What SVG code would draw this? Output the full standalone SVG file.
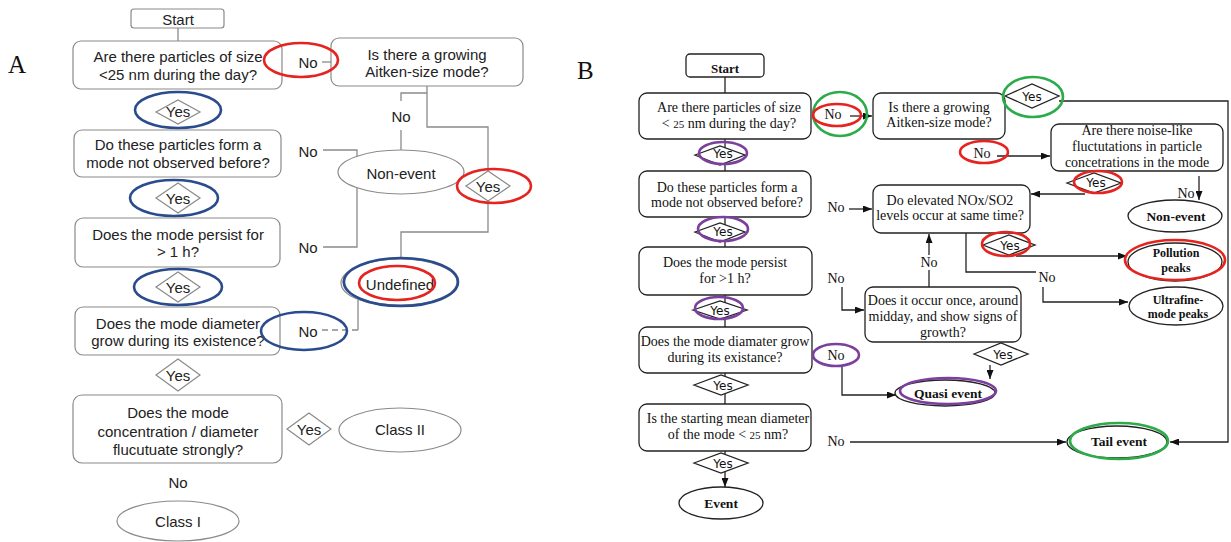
<svg xmlns="http://www.w3.org/2000/svg" width="1231" height="542" viewBox="0 0 1231 542">
<defs>
<marker id="arr" markerUnits="userSpaceOnUse" markerWidth="9" markerHeight="7" refX="9" refY="3.5" orient="auto">
<path d="M0,0 L9,3.5 L0,7 z" fill="#111"/>
</marker>
<style>
.ta{font-family:"Liberation Sans",Arial,sans-serif;font-size:15px;fill:#222;text-anchor:middle}
.tb{font-family:"Liberation Serif","Times New Roman",serif;font-size:14px;fill:#111;text-anchor:middle}
.tbb{font-family:"Liberation Serif","Times New Roman",serif;font-size:13.5px;font-weight:bold;fill:#111;text-anchor:middle}
.tbs{font-family:"Liberation Serif","Times New Roman",serif;font-size:12px;font-weight:bold;fill:#111;text-anchor:middle}
.ty{font-family:"DejaVu Sans",Verdana,sans-serif;font-size:12px;fill:#111;text-anchor:middle}
.lab{font-family:"Liberation Serif","Times New Roman",serif;font-size:25px;fill:#111}
.na{fill:#fff;stroke:#8a8a8a;stroke-width:1.2}
.nb{fill:#fff;stroke:#222;stroke-width:1.3}
.ca{fill:none;stroke:#8a8a8a;stroke-width:1.3}
.cb{fill:none;stroke:#222;stroke-width:1.3}
.blue{fill:none;stroke:#2a4b8d;stroke-width:2.6}
.red{fill:none;stroke:#e5231f;stroke-width:2.6}
.green{fill:none;stroke:#2bab4a;stroke-width:2.6}
.purple{fill:none;stroke:#7b3f9e;stroke-width:2.6}
</style>
</defs>
<rect width="1231" height="542" fill="#fff"/>
<text class="lab" x="8" y="73">A</text>
<text class="lab" x="577" y="79">B</text>

<!-- Panel A connectors -->
<g id="connectors-a">
<path class="ca" d="M178,28 V41"/>
<path class="ca" d="M322,62 H331"/>
<path class="ca" d="M427,86 V127 H488 V171"/>
<path class="ca" d="M427,93 H401 V101"/>
<path class="ca" d="M401,130 V150"/>
<path class="ca" d="M323,150 H357 V247 H323"/>
<path class="ca" d="M488,201 V232 H401 V258"/>
<path class="ca" d="M358,300 V330"/>
<path class="ca" d="M322,330 H358" stroke-dasharray="6,4"/>
</g>

<!-- Panel A nodes -->
<g id="a-start"><rect class="na" x="131" y="9" width="93" height="19" rx="3"/><text class="ta" x="178" y="25">Start</text></g>
<g id="a-q1"><rect class="na" x="73" y="41" width="209" height="48" rx="8"/><text class="ta" x="178" y="62">Are there particles of size</text><text class="ta" x="178" y="80">&lt;25 nm during the day?</text></g>
<g id="a-yes1"><polygon class="na" points="156,112 178,100 200,112 178,124"/><text class="ta" x="178" y="117">Yes</text></g>
<g id="a-q2"><rect class="na" x="74" y="130" width="207" height="47" rx="8"/><text class="ta" x="178" y="150">Do these particles form a</text><text class="ta" x="178" y="168">mode not observed before?</text></g>
<g id="a-yes2"><polygon class="na" points="156,198 178,183 200,198 178,213"/><text class="ta" x="178" y="204">Yes</text></g>
<g id="a-q3"><rect class="na" x="75" y="218" width="205" height="49" rx="8"/><text class="ta" x="178" y="240">Does the mode persist for</text><text class="ta" x="178" y="257">&gt; 1 h?</text></g>
<g id="a-yes3"><polygon class="na" points="156,287 178,272 200,287 178,302"/><text class="ta" x="178" y="293">Yes</text></g>
<g id="a-q4"><rect class="na" x="75" y="307" width="205" height="48" rx="8"/><text class="ta" x="178" y="329">Does the mode diameter</text><text class="ta" x="178" y="346">grow during its existence?</text></g>
<g id="a-yes4"><polygon class="na" points="156,375 178,359 200,375 178,391"/><text class="ta" x="178" y="381">Yes</text></g>
<g id="a-q5"><rect class="na" x="73" y="395" width="209" height="68" rx="9"/><text class="ta" x="178" y="418">Does the mode</text><text class="ta" x="178" y="437">concentration / diameter</text><text class="ta" x="178" y="455">flucutuate strongly?</text></g>
<g id="a-no5"><text class="ta" x="178" y="488">No</text></g>
<g id="a-class1"><ellipse class="na" cx="178" cy="521" rx="61" ry="20"/><text class="ta" x="178" y="527">Class I</text></g>
<g id="a-yes5"><polygon class="na" points="287,429 309,413 331,429 309,445"/><text class="ta" x="309" y="435">Yes</text></g>
<g id="a-class2"><ellipse class="na" cx="400" cy="430" rx="61" ry="22"/><text class="ta" x="400" y="435">Class II</text></g>
<g id="a-no1"><text class="ta" x="308" y="68">No</text></g>
<g id="a-aitken"><rect class="na" x="331" y="38" width="192" height="48" rx="8"/><text class="ta" x="427" y="60">Is there a growing</text><text class="ta" x="427" y="77">Aitken-size mode?</text></g>
<g id="a-no-mid"><text class="ta" x="401" y="122">No</text></g>
<g id="a-no2"><text class="ta" x="308" y="157">No</text></g>
<g id="a-no3"><text class="ta" x="308" y="253">No</text></g>
<g id="a-nonevent"><ellipse class="na" cx="401" cy="172" rx="63" ry="22"/><text class="ta" x="401" y="179">Non-event</text></g>
<g id="a-yes-right"><polygon class="na" points="466,186 488,171 510,186 488,201"/><text class="ta" x="488" y="192">Yes</text></g>
<g id="a-undefined"><ellipse class="na" cx="398" cy="283" rx="57" ry="23"/><ellipse class="na" cx="400" cy="282" rx="57" ry="23"/><text class="ta" x="400" y="290">Undefined</text></g>
<g id="a-no4"><text class="ta" x="308" y="337">No</text></g>

<!-- Panel A highlights -->
<g id="a-highlights">
<ellipse class="blue" cx="178" cy="110" rx="43" ry="18"/>
<ellipse class="blue" cx="174" cy="198" rx="44" ry="18"/>
<ellipse class="blue" cx="178" cy="287" rx="44" ry="18"/>
<ellipse class="blue" cx="304" cy="331" rx="43" ry="19"/>
<ellipse class="blue" cx="401" cy="282" rx="57" ry="24"/>
<ellipse class="red" cx="301" cy="60" rx="37" ry="17"/>
<ellipse class="red" cx="494" cy="186" rx="37" ry="17"/>
<ellipse class="red" cx="397" cy="283" rx="38" ry="17"/>
</g>

<!-- Panel B connectors -->
<g id="connectors-b">
<path class="cb" d="M725,77 V93"/>
<path class="cb" d="M725,139 V171"/>
<path class="cb" d="M725,217 V247"/>
<path class="cb" d="M725,295 V327"/>
<path class="cb" d="M725,373 V404"/>
<path class="cb" d="M725,451 V487" marker-end="url(#arr)"/>
<path class="cb" d="M850,116 H872" marker-end="url(#arr)"/>
<path class="cb" d="M1059,101 H1228 V442 H1170" marker-end="url(#arr)"/>
<path class="cb" d="M997,156 H1050" marker-end="url(#arr)"/>
<path class="cb" d="M1085,194 H1031" marker-end="url(#arr)"/>
<path class="cb" d="M1199,176 V200" marker-end="url(#arr)"/>
<path class="cb" d="M849,209 H872" marker-end="url(#arr)"/>
<path class="cb" d="M1016,256 H1127" marker-end="url(#arr)"/>
<path class="cb" d="M966,233 V272 H1036"/>
<path class="cb" d="M1043,287 V302 H1128" marker-end="url(#arr)"/>
<path class="cb" d="M929,287 V270"/>
<path class="cb" d="M929,255 V234" marker-end="url(#arr)"/>
<path class="cb" d="M842,287 V310 H864" marker-end="url(#arr)"/>
<path class="cb" d="M990,365 V379" marker-end="url(#arr)"/>
<path class="cb" d="M842,366 V395 H896" marker-end="url(#arr)"/>
<path class="cb" d="M850,442 H1066" marker-end="url(#arr)"/>
</g>

<!-- Panel B nodes -->
<g id="b-start"><rect class="nb" x="686" y="54" width="78" height="23" rx="4"/><text class="tbb" x="725" y="73" style="font-size:13px">Start</text></g>
<g id="b-q1"><rect class="nb" x="639" y="93" width="172" height="46" rx="8"/><text class="tb" x="729" y="112">Are there particles of size</text><text class="tb" x="729" y="128">&lt; <tspan style="font-size:11px">25</tspan> nm during the day?</text></g>
<g id="b-yes1"><polygon class="nb" points="695,155 720,146 745,155 720,165"/><text class="ty" x="723" y="158">Yes</text></g>
<g id="b-q2"><rect class="nb" x="639" y="171" width="172" height="46" rx="8"/><text class="tb" x="727" y="192">Do these particles form a</text><text class="tb" x="727" y="207">mode not observed before?</text></g>
<g id="b-yes2"><polygon class="nb" points="695,232 720,223 745,232 720,242"/><text class="ty" x="723" y="236">Yes</text></g>
<g id="b-q3"><rect class="nb" x="639" y="247" width="173" height="48" rx="8"/><text class="tb" x="725" y="267">Does the mode persist</text><text class="tb" x="725" y="283">for &gt;1 h?</text></g>
<g id="b-yes3"><polygon class="nb" points="693,310 720,301 747,310 720,319"/><text class="ty" x="720" y="315">Yes</text></g>
<g id="b-q4"><rect class="nb" x="639" y="327" width="173" height="46" rx="8"/><text class="tb" x="725" y="346">Does the mode diamater grow</text><text class="tb" x="725" y="362">during its existance?</text></g>
<g id="b-yes4"><polygon class="nb" points="694,385 721,375 748,385 721,395"/><text class="ty" x="723" y="390">Yes</text></g>
<g id="b-q5"><rect class="nb" x="639" y="404" width="172" height="47" rx="8"/><text class="tb" x="728" y="423">Is the starting mean diameter</text><text class="tb" x="728" y="439">of the mode &lt; <tspan style="font-size:11px">25</tspan>  nm?</text></g>
<g id="b-yes5"><polygon class="nb" points="694,463 721,453 748,463 721,473"/><text class="ty" x="723" y="468">Yes</text></g>
<g id="b-event"><ellipse class="nb" cx="721" cy="503" rx="42" ry="16"/><text class="tbb" x="721" y="508">Event</text></g>
<g id="b-no1"><text class="tb" x="833" y="119">No</text></g>
<g id="b-aitken"><rect class="nb" x="873" y="93" width="132" height="46" rx="8"/><text class="tb" x="939" y="112">Is there a growing</text><text class="tb" x="939" y="127">Aitken-size mode?</text></g>
<g id="b-yes-top"><polygon class="nb" points="1005,96 1032,84 1059,96 1032,108"/><text class="ty" x="1032" y="101">Yes</text></g>
<g id="b-no2"><text class="tb" x="982" y="158">No</text></g>
<g id="b-noise"><rect class="nb" x="1051" y="124" width="172" height="47" rx="8"/><text class="tb" x="1137" y="135">Are there noise-like</text><text class="tb" x="1137" y="151">fluctutations in particle</text><text class="tb" x="1137" y="167">concetrations in the mode</text></g>
<g id="b-yes-noise"><polygon class="nb" points="1067,183 1094,173 1121,183 1094,193"/><text class="ty" x="1096" y="187">Yes</text></g>
<g id="b-no3"><text class="tb" x="1186" y="198">No</text></g>
<g id="b-nonevent"><ellipse class="nb" cx="1175" cy="216" rx="47" ry="16"/><text class="tbb" x="1176" y="221">Non-event</text></g>
<g id="b-no4"><text class="tb" x="836" y="212">No</text></g>
<g id="b-nox"><rect class="nb" x="873" y="185" width="157" height="48" rx="8"/><text class="tb" x="950" y="205">Do elevated NOx/SO2</text><text class="tb" x="950" y="220">levels occur at same time?</text></g>
<g id="b-yes-nox"><polygon class="nb" points="983,245 1009,235 1035,245 1009,255"/><text class="ty" x="1010" y="250">Yes</text></g>
<g id="b-pollution"><ellipse class="nb" cx="1175" cy="262" rx="47" ry="19"/><text class="tbs" x="1176" y="257">Pollution</text><text class="tbs" x="1176" y="272">peaks</text></g>
<g id="b-no5"><text class="tb" x="929" y="267">No</text></g>
<g id="b-no6"><text class="tb" x="836" y="283">No</text></g>
<g id="b-no7"><text class="tb" x="1047" y="282">No</text></g>
<g id="b-ultrafine"><ellipse class="nb" cx="1176" cy="306" rx="47" ry="19"/><text class="tbs" x="1178" y="304">Ultrafine-</text><text class="tbs" x="1178" y="318">mode peaks</text></g>
<g id="b-occur"><rect class="nb" x="865" y="287" width="156" height="55" rx="8"/><text class="tb" x="943" y="305">Does it occur once, around</text><text class="tb" x="943" y="321">midday, and show signs of</text><text class="tb" x="943" y="337">growth?</text></g>
<g id="b-yes-occur"><polygon class="nb" points="974,354 1001,343 1028,354 1001,365"/><text class="ty" x="1003" y="359">Yes</text></g>
<g id="b-no8"><text class="tb" x="836" y="360">No</text></g>
<g id="b-quasi"><ellipse class="nb" cx="945" cy="393" rx="50" ry="13"/><text class="tbb" x="948" y="398">Quasi event</text></g>
<g id="b-no9"><text class="tb" x="836" y="446">No</text></g>
<g id="b-tail"><ellipse class="nb" cx="1117" cy="442" rx="50" ry="16"/><text class="tbb" x="1119" y="446">Tail event</text></g>

<!-- Panel B highlights -->
<g id="b-highlights">
<ellipse class="green" cx="840" cy="114" rx="27" ry="22"/>
<ellipse class="green" cx="1033" cy="97" rx="30" ry="20"/>
<ellipse class="green" cx="1119" cy="441" rx="49" ry="18"/>
<ellipse class="red" cx="837" cy="115" rx="24" ry="11"/>
<ellipse class="red" cx="984" cy="152" rx="24" ry="11"/>
<ellipse class="red" cx="1098" cy="182" rx="24" ry="11"/>
<ellipse class="red" cx="1006" cy="244" rx="24" ry="12"/>
<ellipse class="red" cx="1175" cy="260" rx="50" ry="20"/>
<ellipse class="purple" cx="723" cy="153" rx="24" ry="11"/>
<ellipse class="purple" cx="723" cy="229" rx="25" ry="12"/>
<ellipse class="purple" cx="719" cy="308" rx="24" ry="11"/>
<ellipse class="purple" cx="836" cy="355" rx="23" ry="11"/>
<ellipse class="purple" cx="948" cy="391" rx="48" ry="13"/>
</g>
</svg>
